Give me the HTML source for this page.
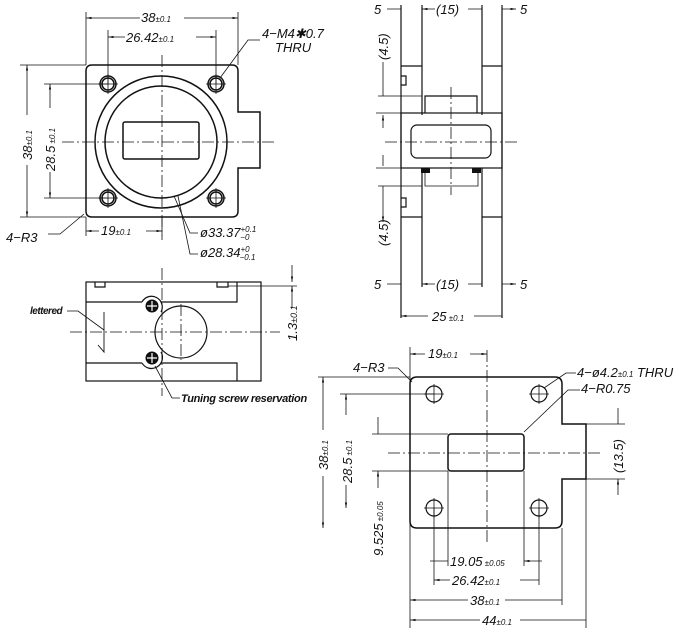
<!DOCTYPE html>
<html><head><style>
html,body{margin:0;padding:0;background:#fff;}
svg{display:block;}
text{font-family:"Liberation Sans",sans-serif;font-style:italic;fill:#111;}
</style></head><body>
<svg width="697" height="634" viewBox="0 0 697 634" xmlns="http://www.w3.org/2000/svg">
<defs>
<marker id="a" viewBox="0 0 10 10" refX="10" refY="5" markerWidth="7" markerHeight="7" orient="auto-start-reverse"><path d="M0,3 L10,5 L0,7z" fill="#111"/></marker>
</defs>
<g stroke="#111" fill="none" stroke-width="1">
<!-- VIEW 1 -->
<path d="M92,65 H232 Q238,65 238,71 V112 H260 V168 H238 V211 Q238,217 232,217 H92 Q86,217 86,211 V71 Q86,65 92,65 Z" stroke-width="1.5"/>
<circle cx="161" cy="142" r="66" stroke-width="1.5"/>
<circle cx="161" cy="142" r="56" stroke-width="1.5"/>
<rect x="123" y="122" width="76" height="37" rx="2" stroke-width="1.5"/>
<g stroke-width="1.5"><circle cx="108" cy="84" r="8"/><circle cx="108" cy="84" r="6"/><circle cx="216" cy="84" r="8"/><circle cx="216" cy="84" r="6"/><circle cx="108" cy="198" r="8"/><circle cx="108" cy="198" r="6"/><circle cx="216" cy="198" r="8"/><circle cx="216" cy="198" r="6"/></g>
<g stroke-width="0.8"><path d="M98,84H118M108,74V94M206,84H226M216,74V94M98,198H118M108,188V208M206,198H226M216,188V208"/></g>
<path d="M62,142 H275 M162,55 V240" stroke-dasharray="12,3,2,3" stroke-width="0.8"/>
<g stroke-width="0.8">
<path d="M86,12V65M238,12V65M108,30V84M216,30V84M20,65H86M20,217H86M44,84H108M44,198H108M86,217V236M162,217V236"/>
<path d="M86,18H140M184,18H238" marker-start="url(#a)" marker-end="url(#a)"/>
<path d="M108,37H125M196,37H216" marker-start="url(#a)" marker-end="url(#a)"/>
<path d="M27,65V115M27,165V217" marker-start="url(#a)" marker-end="url(#a)"/>
<path d="M50,84V108M50,172V198" marker-start="url(#a)" marker-end="url(#a)"/>
<path d="M86,231H99M146,231H162" marker-start="url(#a)" marker-end="url(#a)"/>
<path d="M220,78 L248,40 H260"/>
<path d="M84,214 L60,234 H48"/>
<path d="M174,196 L190,233 H198"/>
<path d="M178,196 L190,254 H198"/>
</g>
<!-- VIEW 2 -->
<g stroke-width="1.2">
<path d="M401,5V318M502,5V318M422,5V115M482,5V115M422,168V287M482,168V287"/>
<path d="M401,66H422M482,66H502M401,217H422M482,217H502"/>
<rect x="401" y="113" width="101" height="55"/>
<rect x="411" y="125" width="80" height="33" rx="6"/>
<path d="M425,113V96H477V113"/>
<path d="M401,76H406V85H401M401,198H406V207H401"/>
<path d="M425,173V186H478V173" stroke-width="0.8"/>
</g>
<rect x="421" y="168" width="9" height="5" fill="#111" stroke="none"/>
<rect x="472" y="168" width="9" height="5" fill="#111" stroke="none"/>
<path d="M385,142H518M451,87V195" stroke-dasharray="12,3,2,3" stroke-width="0.8"/>
<g stroke-width="0.8">
<path d="M378,96H422M376,113H401M376,168H401M378,186H422"/>
<path d="M383,62V96M383,186V222" marker-end="url(#a)"/>
<path d="M383,115V128M383,166V155" marker-start="url(#a)"/>
<path d="M387,9H401M502,9H516" marker-end="url(#a)"/>
<path d="M422,9H435M482,9H468" marker-start="url(#a)"/>
<path d="M387,284H401M502,284H516" marker-end="url(#a)"/>
<path d="M422,284H435M482,284H468" marker-start="url(#a)"/>
<path d="M401,316H428M502,316H474" marker-start="url(#a)"/>
</g>
<!-- VIEW 3 -->
<g stroke-width="1.2">
<rect x="86" y="282" width="175" height="99"/>
<path d="M86,302H142M161,302H237V282M86,363H142M161,363H237V381"/>
<circle cx="181" cy="332" r="26"/>
<path d="M95,282V287H105V282M217,282V287H228V282"/>
<path d="M142,302 A10,10 0 1,1 161,312"/>
<path d="M142,363 A10,10 0 1,0 161,352"/>
<path d="M104,312V352L98,345" stroke-width="0.9"/>
</g>
<circle cx="152" cy="306" r="6" fill="#111"/><circle cx="152" cy="358" r="6" fill="#111"/>
<path d="M147,306H157M152,301V311M147,358H157M152,353V363" stroke="#fff" stroke-width="1.2"/>
<path d="M70,332H280M162,268V396M181,304V360" stroke-dasharray="12,3,2,3" stroke-width="0.8"/>
<g stroke-width="0.8">
<path d="M228,286H297M292,265V282" marker-end="url(#a)"/>
<path d="M292,308V286" marker-end="url(#a)"/>
<path d="M67,311H78L104,330"/>
<path d="M155,366 L172,398H180"/>
</g>
<!-- VIEW 4 -->
<path d="M417,377H555Q562,377 562,384V424H586V479H562V521Q562,528 555,528H417Q410,528 410,521V384Q410,377 417,377Z" stroke-width="1.5"/>
<rect x="448" y="434" width="76" height="37" rx="3" stroke-width="1.5"/>
<g stroke-width="1.2"><circle cx="434" cy="394" r="8"/><circle cx="539" cy="394" r="8"/><circle cx="434" cy="508" r="8"/><circle cx="539" cy="508" r="8"/></g>
<g stroke-width="0.8"><path d="M424,394H444M434,384V404M529,394H549M539,384V404M424,508H444M434,498V518M529,508H549M539,498V518"/></g>
<path d="M388,453H600M487,350V543" stroke-dasharray="12,3,2,3" stroke-width="0.8"/>
<g stroke-width="0.8">
<path d="M410,347V628M586,479V628M562,528V605M434,508V585M539,508V585M448,471V566M524,471V566"/>
<path d="M318,377H410M340,394H434M372,434H448M372,471H448M586,424H625M586,479H625"/>
<path d="M410,354H425M470,354H487" marker-start="url(#a)" marker-end="url(#a)"/>
<path d="M323,377V430M323,476V528" marker-start="url(#a)" marker-end="url(#a)"/>
<path d="M346,394V415M346,485V508" marker-start="url(#a)" marker-end="url(#a)"/>
<path d="M378,417V434M378,488V471" marker-end="url(#a)"/>
<path d="M618,408V424M618,495V479" marker-end="url(#a)"/>
<path d="M430,561H448M542,561H524" marker-end="url(#a)"/>
<path d="M434,580H450M539,580H520" marker-start="url(#a)"/>
<path d="M410,600H468M562,600H505" marker-start="url(#a)"/>
<path d="M410,620H480M586,620H520" marker-start="url(#a)"/>
<path d="M398,368 L412,382 M398,368H388"/>
<path d="M544,388 L566,373H576"/>
<path d="M524,432 L568,390H580"/>
</g>
</g>
<!-- TEXT -->
<g font-size="13">
<text x="141" y="22">38<tspan font-size="8">±0.1</tspan></text>
<text x="126" y="42">26.42<tspan font-size="8">±0.1</tspan></text>
<text x="262" y="38">4−M4✱0.7</text>
<text x="275" y="52">THRU</text>
<text transform="translate(32,160) rotate(-90)">38<tspan font-size="8">±0.1</tspan></text>
<text transform="translate(55,171) rotate(-90)">28.5<tspan font-size="8"> ±0.1</tspan></text>
<text x="6" y="242">4−R3</text>
<text x="101" y="235">19<tspan font-size="8">±0.1</tspan></text>
<text x="200" y="237">ø33.37<tspan font-size="8" dy="-5">+0.1</tspan><tspan font-size="8" dx="-16" dy="8">−0</tspan></text>
<text x="200" y="257">ø28.34<tspan font-size="8" dy="-5">+0</tspan><tspan font-size="8" dx="-10" dy="8">−0.1</tspan></text>
<text x="374" y="14">5</text><text x="436" y="14">(15)</text><text x="520" y="14">5</text>
<text x="374" y="289">5</text><text x="436" y="289">(15)</text><text x="520" y="289">5</text>
<text transform="translate(388,60) rotate(-90)">(4.5)</text>
<text transform="translate(388,246) rotate(-90)">(4.5)</text>
<text x="432" y="321">25<tspan font-size="8"> ±0.1</tspan></text>
<text font-size="10" font-weight="bold" x="30" y="314" letter-spacing="-0.5">lettered</text>
<text font-size="11" font-weight="bold" x="181" y="402" letter-spacing="-0.3">Tuning screw reservation</text>
<text transform="translate(297,341) rotate(-90)">1.3<tspan font-size="9">±0.1</tspan></text>
<text x="353" y="372">4−R3</text>
<text x="428" y="358">19<tspan font-size="8">±0.1</tspan></text>
<text x="577" y="377">4−ø4.2<tspan font-size="8">±0.1</tspan>  THRU</text>
<text x="581" y="393">4−R0.75</text>
<text transform="translate(328,470) rotate(-90)">38<tspan font-size="8">±0.1</tspan></text>
<text transform="translate(352,483) rotate(-90)">28.5<tspan font-size="8"> ±0.1</tspan></text>
<text transform="translate(383,556) rotate(-90)">9.525<tspan font-size="8"> ±0.05</tspan></text>
<text transform="translate(623,473) rotate(-90)">(13.5)</text>
<text x="450" y="566">19.05<tspan font-size="8"> ±0.05</tspan></text>
<text x="452" y="585">26.42<tspan font-size="8">±0.1</tspan></text>
<text x="470" y="605">38<tspan font-size="8">±0.1</tspan></text>
<text x="482" y="625">44<tspan font-size="8">±0.1</tspan></text>
</g>
</svg>
</body></html>
